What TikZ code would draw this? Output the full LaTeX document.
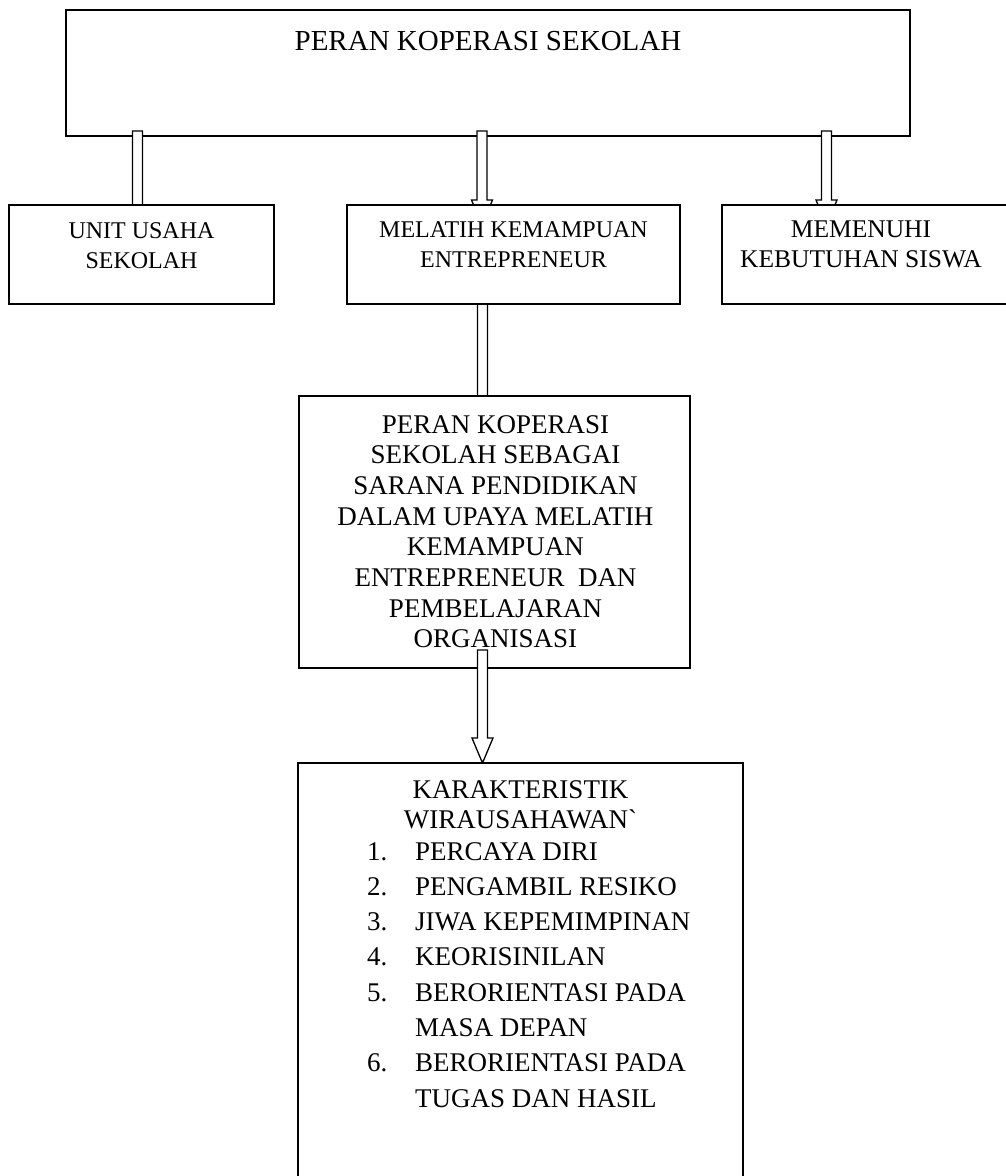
\documentclass[tikz,border=0pt]{standalone}
\usepackage{fontspec}
\setmainfont{Liberation Serif}[Ligatures=TeXOff]
\usetikzlibrary{calc}
\tikzset{
  boxnode/.style={draw=black, line width=1.8pt, fill=white, inner sep=0pt},
  blockarrow/.style={draw=black, line width=1.3pt, fill=white, line join=miter},
  txt/.style={inner sep=0pt, anchor=base, font=\fontsize{24}{30}\selectfont},
  bigtxt/.style={txt, font=\fontsize{27}{30}\selectfont},
}
\newcommand\barrow[2]{\draw[blockarrow] let \p1=#1, \p2=#2 in
  (\x1-5,\y1) -- (\x1+5,\y1) -- (\x1+5,\y2+25) -- (\x1+10.5,\y2+25) --
  (\x1,\y2) -- (\x1-10.5,\y2+25) -- (\x1-5,\y2+25) -- cycle;}
\begin{document}
\begin{tikzpicture}[x=1pt,y=-1pt]
\useasboundingbox (0,0) rectangle (1006,1176);
\clip (0,0) rectangle (1006,1176);
\fill[white] (0,0) rectangle (1006,1176);

% top box
\node[boxnode, minimum width=844pt, minimum height=126pt] (top) at (488,73) {};
\node[txt, font=\fontsize{29}{34}\selectfont] (toptxt) at (488,50) {PERAN KOPERASI SEKOLAH};

% arrow end points
\coordinate (a1s) at (137.5,131); \coordinate (a1e) at (137.5,240);
\coordinate (a2s) at (482,131);   \coordinate (a2e) at (482,225);
\coordinate (a3s) at (826.5,131); \coordinate (a3e) at (826.5,225);
\coordinate (a4s) at (482.5,290); \coordinate (a4e) at (482.5,430);
\coordinate (a5s) at (482.5,650); \coordinate (a5e) at (482.5,763);

\barrow{(a1s)}{(a1e)}
\barrow{(a2s)}{(a2e)}
\barrow{(a3s)}{(a3e)}
\barrow{(a4s)}{(a4e)}

% second row
\node[boxnode, minimum width=265pt, minimum height=99pt] (unit) at (141.5,254.5) {};
\node[txt] (unittxt) at (141.5,238) {\parbox[t]{300pt}{\centering UNIT USAHA\\SEKOLAH}};

\node[boxnode, minimum width=333pt, minimum height=99pt] (melatih) at (513.5,254.5) {};
\node[txt] (melatihtxt) at (513.5,237) {\parbox[t]{360pt}{\centering MELATIH KEMAMPUAN\\ENTREPRENEUR}};

\node[boxnode, minimum width=294pt, minimum height=99pt] (memenuhi) at (869,254.5) {};
\node[txt, font=\fontsize{25.5}{30}\selectfont] (memenuhitxt) at (861,237) {\parbox[t]{320pt}{\centering MEMENUHI\\KEBUTUHAN SISWA}};

% middle box
\node[boxnode, minimum width=391pt, minimum height=272pt] (mid) at (494.5,532) {};
\node[txt, font=\fontsize{27}{30.7}\selectfont] (midtxt) at (495.5,433) {\parbox[t]{400pt}{\centering
PERAN KOPERASI\\
SEKOLAH SEBAGAI\\
SARANA PENDIDIKAN\\
DALAM UPAYA MELATIH\\
KEMAMPUAN\\
ENTREPRENEUR~ DAN\\
PEMBELAJARAN\\
ORGANISASI}};

\barrow{(a5s)}{(a5e)}

% bottom box
\node[boxnode, minimum width=445pt, minimum height=437pt] (kar) at (520.5,981.5) {};
\node[bigtxt] (kartitle) at (520.5,798) {\parbox[t]{400pt}{\centering KARAKTERISTIK\\WIRAUSAHAWAN`}};
\node[txt, anchor=base west, font=\fontsize{27}{35.3}\selectfont] (karlist) at (367,860) {\parbox[t]{370pt}{\raggedright
\makebox[48pt][l]{1.}PERCAYA DIRI\\
\makebox[48pt][l]{2.}PENGAMBIL RESIKO\\
\makebox[48pt][l]{3.}JIWA KEPEMIMPINAN\\
\makebox[48pt][l]{4.}KEORISINILAN\\
\makebox[48pt][l]{5.}BERORIENTASI PADA\\
\hspace*{48pt}MASA DEPAN\\
\makebox[48pt][l]{6.}BERORIENTASI PADA\\
\hspace*{48pt}TUGAS DAN HASIL}};
\end{tikzpicture}
\end{document}
